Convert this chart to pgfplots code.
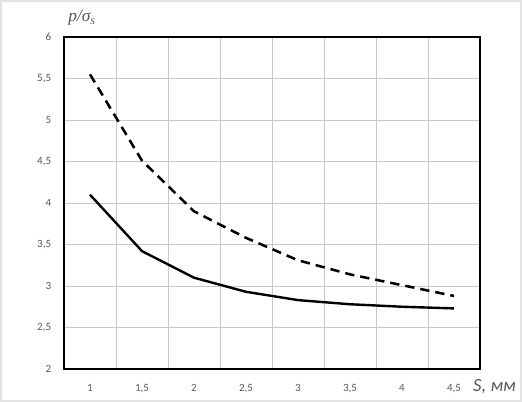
\documentclass[border=0pt]{standalone}
\usepackage{pgfplots}
\pgfplotsset{compat=1.18}
\usepackage{fontspec}
\setmainfont{Carlito}
\newfontfamily\serifit{Liberation Serif}
\definecolor{txt}{HTML}{595959}
\definecolor{gridc}{HTML}{C8C8C8}
\definecolor{frame}{HTML}{E3E3E3}
\begin{document}
\begin{tikzpicture}
\begin{axis}[
  at={(48pt,24.75pt)}, anchor=south west,
  scale only axis, width=312pt, height=249pt,
  xmin=0.75, xmax=4.75, ymin=2, ymax=6,
  xtick={1,1.5,2,2.5,3,3.5,4,4.5},
  ytick={2,2.5,3,3.5,4,4.5,5,5.5,6},
  minor xtick={1.25,1.75,2.25,2.75,3.25,3.75,4.25},
  xminorgrids, ymajorgrids,
  minor grid style={gridc, line width=0.6pt},
  major grid style={gridc, line width=0.6pt},
  major tick length=0pt, minor tick length=0pt,
  axis line style={black, line width=1.3pt},
  /pgf/number format/use comma,
  /pgf/number format/assume math mode=true,
  ticklabel style={font=\fontsize{8.3}{10}\selectfont, text=txt, inner sep=0pt},
  x tick label style={anchor=base, yshift=-17.25pt},
  y tick label style={anchor=base east, xshift=-9.4pt, yshift=-2.5pt},
  clip=false,
]
\addplot[black, line width=1.9pt, dash pattern=on 7pt off 4.5pt] coordinates {
  (1,5.55) (1.5,4.51) (2,3.90) (2.5,3.58) (3,3.31) (3.5,3.14) (4,3.01) (4.5,2.88)};
\addplot[black, line width=1.8pt] coordinates {
  (1,4.10) (1.5,3.42) (2,3.10) (2.5,2.93) (3,2.83) (3.5,2.78) (4,2.75) (4.5,2.73)};
\node[anchor=base west, inner sep=0pt, text=txt, font=\fontsize{14}{16}\selectfont\itshape]
  at ([yshift=-17.25pt]rel axis cs:0.983,0) {S, мм};
\node[anchor=base west, inner sep=0pt, text=txt, font=\fontsize{13}{15}\selectfont]
  at ([yshift=11.25pt]rel axis cs:0.01,1) {{\serifit\itshape p/σ\textsubscript{s}}};
\end{axis}
\draw[frame, line width=1.5pt] (0.75pt,0.75pt) rectangle (390.75pt,300.75pt);
\pgfresetboundingbox
\path (0,0) rectangle (391.5pt,301.5pt);
\end{tikzpicture}
\end{document}
